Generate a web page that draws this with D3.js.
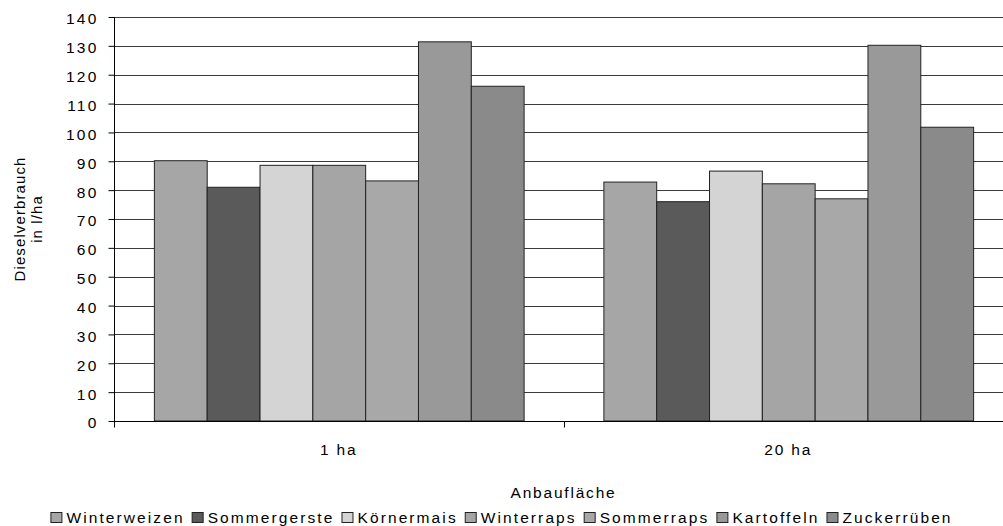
<!DOCTYPE html>
<html>
<head>
<meta charset="utf-8">
<script src="https://cdn.jsdelivr.net/npm/d3@7/dist/d3.min.js"></script>
<style>
  html, body { margin: 0; padding: 0; background: #fff; }
  svg { display: block; }
  text { font-family: "Liberation Sans", Arial, sans-serif; fill: #000; }
</style>
</head>
<body>
<svg id="chart" width="1003" height="526"></svg>
<script>
// Dieselverbrauch nach Kultur und Anbaufläche
const groups = ["1 ha", "20 ha"];
const crops = ["Winterweizen", "Sommergerste", "Körnermais", "Winterraps", "Sommerraps", "Kartoffeln", "Zuckerrüben"];
const values1ha = [90.2, 81.0, 88.6, 88.6, 83.2, 131.4, 116.0];
const values20ha = [82.8, 76.0, 86.6, 82.2, 77.0, 130.2, 101.8];
const cropColors = ["#a6a6a6", "#5a5a5a", "#d4d4d4", "#a5a5a5", "#a8a8a8", "#999999", "#8a8a8a"];
const yTicks = [0, 10, 20, 30, 40, 50, 60, 70, 80, 90, 100, 110, 120, 130, 140];
const yTitle = ["Dieselverbrauch", "in l/ha"];
const xTitle = "Anbaufläche";

const seriesByGroup = [values1ha, values20ha];

const svg = d3.select("#chart");
const plot = { left: 114, right: 1013, top: 17, bottom: 421 };

const y = d3.scaleLinear().domain([0, 140]).range([plot.bottom, plot.top]);
const x0 = d3.scaleBand().domain(groups).range([plot.left, plot.right]).paddingInner(0).paddingOuter(0);
const x1 = d3.scaleBand().domain(crops).range([0, x0.bandwidth()]).paddingInner(0).paddingOuter(0.755);
const color = d3.scaleOrdinal().domain(crops).range(cropColors);

// horizontal gridlines
svg.append("g")
  .selectAll("line")
  .data(yTicks.filter(d => d > 0))
  .join("line")
  .attr("x1", plot.left).attr("x2", plot.right)
  .attr("y1", d => Math.round(y(d)) + 0.5).attr("y2", d => Math.round(y(d)) + 0.5)
  .attr("stroke", "#3a3a3a").attr("stroke-width", 1);

// bars
const gBars = svg.append("g");
groups.forEach((g, gi) => {
  gBars.append("g")
    .attr("transform", `translate(${x0(g)},0)`)
    .selectAll("rect")
    .data(crops.map((c, i) => ({ crop: c, value: seriesByGroup[gi][i] })))
    .join("rect")
    .attr("x", d => x1(d.crop) + 0.5)
    .attr("y", d => y(d.value))
    .attr("width", x1.bandwidth())
    .attr("height", d => y(0) - y(d.value))
    .attr("fill", d => color(d.crop))
    .attr("stroke", "#222")
    .attr("stroke-width", 1);
});

// y axis
const yAxis = d3.axisLeft(y).tickValues(yTicks).tickSize(6).tickPadding(10);
const gy = svg.append("g")
  .attr("transform", `translate(${plot.left + 0.5},0)`)
  .call(yAxis);
gy.select(".domain").attr("stroke", "#000").attr("d", `M0,${plot.top}V${plot.bottom}`);
gy.selectAll(".tick line").attr("stroke", "#000");
gy.selectAll(".tick text")
  .style("font-family", "'Liberation Sans', Arial, sans-serif")
  .style("font-size", "15.5px")
  .style("letter-spacing", "2.2px")
  .attr("fill", "#000")
  .attr("dy", "0.45em");

// x axis: boundaries between groups carry the ticks
const gx = svg.append("g").attr("transform", `translate(0,${plot.bottom + 0.5})`);
gx.append("line")
  .attr("x1", plot.left).attr("x2", plot.right)
  .attr("stroke", "#000");
const boundaries = groups.map(g => x0(g)).concat([x0(groups[groups.length - 1]) + x0.bandwidth()]);
gx.selectAll("line.tick")
  .data(boundaries)
  .join("line")
  .attr("class", "tick")
  .attr("x1", d => Math.round(d) + 0.5).attr("x2", d => Math.round(d) + 0.5)
  .attr("y1", 0).attr("y2", 6)
  .attr("stroke", "#000");
gx.selectAll("text")
  .data(groups)
  .join("text")
  .attr("x", d => x0(d) + x0.bandwidth() / 2)
  .attr("y", 33)
  .attr("text-anchor", "middle")
  .style("font-size", "15.5px")
  .style("letter-spacing", "1.8px")
  .text(d => d);

// axis titles
svg.append("text")
  .attr("x", (plot.left + plot.right) / 2)
  .attr("y", 498)
  .attr("text-anchor", "middle")
  .style("font-size", "15.5px")
  .style("letter-spacing", "1.8px")
  .text(xTitle);

const yt = svg.append("text")
  .attr("transform", "translate(25,219) rotate(-90)")
  .attr("text-anchor", "middle")
  .style("font-size", "15px")
  .style("letter-spacing", "1.1px");
yTitle.forEach((line, i) => {
  yt.append("tspan").attr("x", 0).attr("y", i * 17).text(line);
});

// legend, centred under the chart
const legend = svg.append("g").attr("transform", "translate(0,523)");
const items = legend.selectAll("g")
  .data(crops)
  .join("g");
items.append("rect")
  .attr("x", 0.5).attr("y", -10.5)
  .attr("width", 11).attr("height", 10)
  .attr("fill", d => color(d))
  .attr("stroke", "#222");
items.append("text")
  .attr("x", 16)
  .attr("y", 0)
  .style("font-size", "15.5px")
  .style("letter-spacing", "2.1px")
  .text(d => d);
const gap = 7;
const widths = [];
items.each(function () {
  widths.push(16 + d3.select(this).select("text").node().getComputedTextLength());
});
const total = d3.sum(widths) + gap * (widths.length - 1);
let cx = 1003 / 2 - total / 2;
items.each(function (d, i) {
  d3.select(this).attr("transform", `translate(${cx},0)`);
  cx += widths[i] + gap;
});
</script>
</body>
</html>
